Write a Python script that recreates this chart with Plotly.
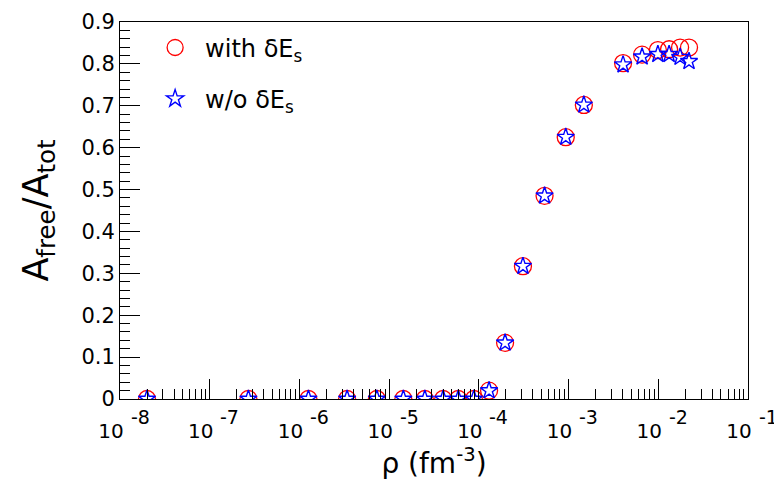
import plotly.graph_objects as go

# ---- data ----
rho = [2.0e-8, 2.7e-7, 1.26e-6, 3.4e-6, 7.3e-6, 1.44e-5, 2.5e-5, 4.0e-5, 5.9e-5, 8.8e-5,
       1.3e-4, 1.96e-4, 3.1e-4, 5.4e-4, 9.3e-4, 1.48e-3,
       4.05e-3, 6.6e-3, 9.9e-3, 1.32e-2, 1.75e-2, 2.2e-2]
frac_with = [0, 0, 0, 0, 0, 0, 0, 0, 0, 0,
             0.020, 0.134, 0.317, 0.485, 0.625, 0.702,
             0.802, 0.822, 0.833, 0.835, 0.839, 0.839]
frac_without = [0, 0, 0, 0, 0, 0, 0, 0, 0, 0,
                0.020, 0.134, 0.317, 0.485, 0.625, 0.702,
                0.798, 0.817, 0.823, 0.823, 0.816, 0.806]

x_exponents = [-8, -7, -6, -5, -4, -3, -2, -1]
x_tickvals = [10.0 ** e for e in x_exponents]
x_ticktext = ["10" for e in x_exponents]
x_exptext = ["%d" % e for e in x_exponents]
x_minor = [k * 10.0 ** e for e in x_exponents[:-1] for k in range(2, 10)]

FONT = "DejaVu Sans, Liberation Sans, Arial, sans-serif"

fig = go.Figure()
fig.add_trace(go.Scatter(
    x=rho, y=frac_with, mode="markers", name="with δE<sub>s</sub>",
    marker=dict(symbol="circle-open", size=17, color="red", line=dict(width=1.3, color="red")),
    legendgroup="a",
))
fig.add_trace(go.Scatter(
    x=rho, y=frac_without, mode="markers", name="w/o δE<sub>s</sub>",
    marker=dict(symbol="star-open", size=13, color="blue", line=dict(width=1.4, color="blue")),
    legendgroup="b",
))

# exponents of the decade labels (drawn at full size, raised, as in the reference)
for e, t in zip(x_exponents, x_exptext):
    fig.add_annotation(x=e, xref="x", y=0, yref="paper", text=t, showarrow=False,
                       xanchor="center", yanchor="top", xshift=20, yshift=-5,
                       font=dict(size=19, family=FONT, color="black"))

fig.update_layout(
    width=774, height=494,
    margin=dict(l=120, r=26, t=10, b=95),
    paper_bgcolor="white", plot_bgcolor="white",
    font=dict(family=FONT, color="black", size=20),
    showlegend=True,
    legend=dict(x=0.040, y=0.991, xanchor="left", yanchor="top",
                font=dict(size=24, family=FONT), bgcolor="rgba(0,0,0,0)",
                tracegroupgap=17, traceorder="grouped", itemsizing="trace",
                itemwidth=50),
    xaxis=dict(
        type="log", range=[-8, -1],
        tickmode="array", tickvals=x_tickvals, ticktext=x_ticktext,
        ticks="inside", ticklen=20, tickwidth=1, tickcolor="black",
        showline=True, linecolor="black", linewidth=1, mirror=True,
        showgrid=False, zeroline=False,
        tickfont=dict(size=20, family=FONT),
        ticklabelstandoff=14, ticklabelshift=-9,
        minor=dict(tickmode="array", tickvals=x_minor, ticks="inside", ticklen=10,
                   tickwidth=1, tickcolor="black", showgrid=False),
        title=dict(text="ρ (fm<sup>-3</sup>)", font=dict(size=28, family=FONT), standoff=9),
    ),
    yaxis=dict(
        range=[0, 0.9], tickmode="linear", tick0=0, dtick=0.1,
        ticks="inside", ticklen=20, tickwidth=1, tickcolor="black",
        showline=True, linecolor="black", linewidth=1, mirror=True,
        showgrid=False, zeroline=False,
        tickfont=dict(size=21, family=FONT),
        ticklabeloverflow="allow",
        minor=dict(dtick=0.02, ticks="inside", ticklen=10, tickwidth=1,
                   tickcolor="black", showgrid=False),
        title=dict(text="A<sub>free</sub>/A<sub>tot</sub>", font=dict(size=35, family=FONT), standoff=22),
    ),
)

fig.write_html("out.html")
